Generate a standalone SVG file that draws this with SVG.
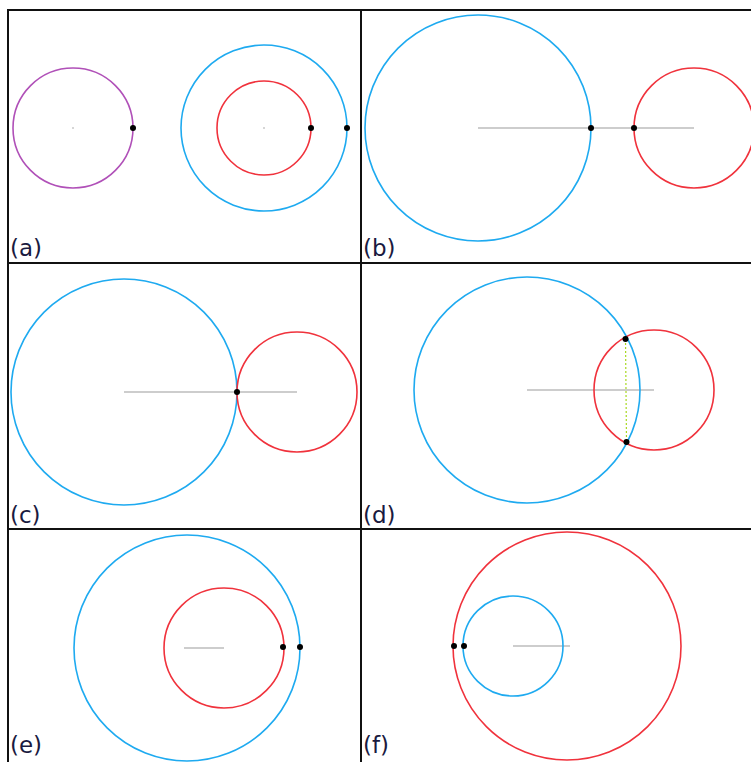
<svg xmlns="http://www.w3.org/2000/svg" width="751" height="762" viewBox="0 0 751 762">
<style>
.frame{stroke:#111;stroke-width:2;fill:none}
.c{fill:none;stroke-width:1.6}
.blue{stroke:#1eaaf0}
.red{stroke:#f0323c}
.purple{stroke:#b050b8}
.axis{stroke:#bdbdbd;stroke-width:1.6}
.dot{fill:#000}
.ctr{fill:#c8c8c8}
.chord{stroke:#a8d820;stroke-width:1.2;stroke-dasharray:2 2}
.lbl{font-family:"DejaVu Sans",Verdana,sans-serif;font-size:23px;fill:#1a1a40}
</style>
<rect width="751" height="762" fill="#fff"/>
<g id="frame">
<path class="frame" d="M8,762 V10 H751 M361,10 V762 M8,263 H751 M8,529 H751"/>
</g>
<g id="panel-a">
<circle class="c purple" cx="73" cy="128" r="60"/>
<circle class="c blue" cx="264" cy="128" r="83"/>
<circle class="c red" cx="264" cy="128" r="47"/>
<circle class="ctr" cx="73" cy="128" r="1"/>
<circle class="ctr" cx="264" cy="128" r="1"/>
<circle class="dot" cx="133" cy="128" r="3"/>
<circle class="dot" cx="311" cy="128" r="3"/>
<circle class="dot" cx="347" cy="128" r="3"/>
<text class="lbl" x="10" y="256">(a)</text>
</g>
<g id="panel-b">
<line class="axis" x1="478" y1="128" x2="694" y2="128"/>
<circle class="c blue" cx="478" cy="128" r="113"/>
<circle class="c red" cx="694" cy="128" r="60"/>
<circle class="dot" cx="591" cy="128" r="3"/>
<circle class="dot" cx="634" cy="128" r="3"/>
<text class="lbl" x="363" y="256">(b)</text>
</g>
<g id="panel-c">
<line class="axis" x1="124" y1="392" x2="297" y2="392"/>
<circle class="c blue" cx="124" cy="392" r="113"/>
<circle class="c red" cx="297" cy="392" r="60"/>
<circle class="dot" cx="237" cy="392" r="3"/>
<text class="lbl" x="10" y="523">(c)</text>
</g>
<g id="panel-d">
<line class="axis" x1="527" y1="390" x2="654" y2="390"/>
<line class="chord" x1="625.5" y1="339" x2="626.5" y2="442"/>
<circle class="c blue" cx="527" cy="390" r="113"/>
<circle class="c red" cx="654" cy="390" r="60"/>
<circle class="dot" cx="625.5" cy="339" r="3"/>
<circle class="dot" cx="626.5" cy="442" r="3"/>
<text class="lbl" x="363" y="523">(d)</text>
</g>
<g id="panel-e">
<line class="axis" x1="184" y1="648" x2="224" y2="648"/>
<circle class="c blue" cx="187" cy="648" r="113"/>
<circle class="c red" cx="224" cy="648" r="60"/>
<circle class="dot" cx="283" cy="647" r="3"/>
<circle class="dot" cx="300" cy="647" r="3"/>
<text class="lbl" x="10" y="753">(e)</text>
</g>
<g id="panel-f">
<line class="axis" x1="513" y1="646" x2="570" y2="646"/>
<circle class="c red" cx="567" cy="646" r="114"/>
<circle class="c blue" cx="513" cy="646" r="50"/>
<circle class="dot" cx="454" cy="646" r="3"/>
<circle class="dot" cx="464" cy="646" r="3"/>
<text class="lbl" x="363" y="753">(f)</text>
</g>
</svg>
